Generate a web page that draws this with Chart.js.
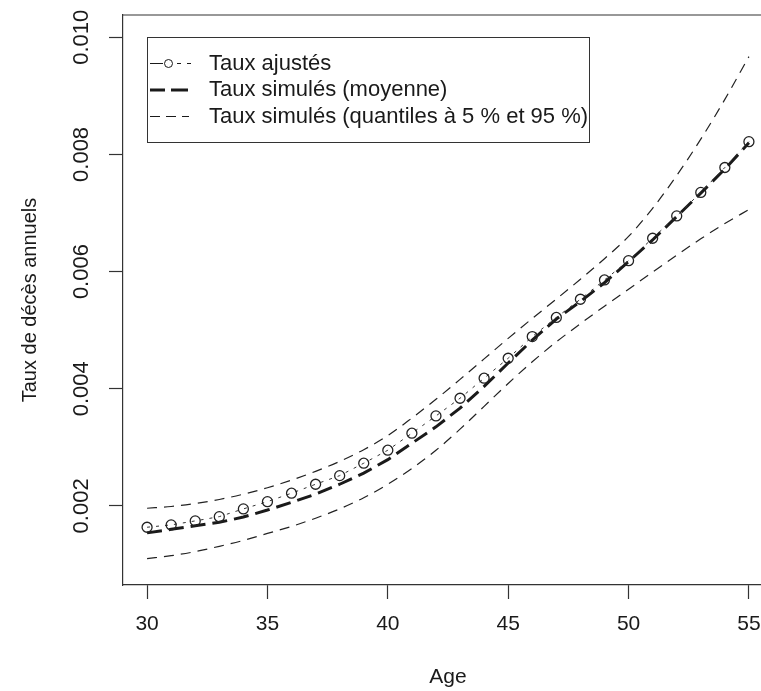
<!DOCTYPE html>
<html>
<head>
<meta charset="utf-8">
<script src="https://cdn.jsdelivr.net/npm/chart.js@4.4.1/dist/chart.umd.min.js"></script>
<style>
  html, body { margin: 0; padding: 0; background: #fff; overflow: hidden; }
  canvas { display: block; }
</style>
</head>
<body>
<canvas id="graphe" width="785" height="691"></canvas>
<script>
// ages 30..55
var ages = [30,31,32,33,34,35,36,37,38,39,40,41,42,43,44,45,46,47,48,49,50,51,52,53,54,55];

var tauxAjustes = [0.001636,0.001676,0.001744,0.001817,0.001949,0.002073,0.002217,0.002370,0.002517,0.002729,
                   0.002951,0.003241,0.003536,0.003838,0.004180,0.004521,0.004890,0.005217,0.005528,0.005857,
                   0.006187,0.006569,0.006950,0.007351,0.007777,0.008218];

var tauxMoyenne = [0.00154,0.00160,0.00166,0.00172,0.00181,0.00193,0.00206,0.00220,0.00237,0.00256,
                   0.00279,0.00307,0.00335,0.00367,0.00404,0.00444,0.00483,0.00519,0.00549,0.00581,
                   0.00617,0.00654,0.00694,0.00734,0.00775,0.00820];

var quantile95 = [0.00196,0.00199,0.00204,0.00211,0.00220,0.00231,0.00244,0.00259,0.00276,0.00296,
                  0.00320,0.00350,0.00382,0.00416,0.00451,0.00486,0.00520,0.00553,0.00587,0.00622,
                  0.00660,0.00708,0.00764,0.00826,0.00894,0.00967];

var quantile5 = [0.00110,0.00115,0.00122,0.00131,0.00141,0.00153,0.00165,0.00179,0.00195,0.00214,
                 0.00237,0.00264,0.00295,0.00331,0.00370,0.00409,0.00446,0.00480,0.00511,0.00541,
                 0.00570,0.00599,0.00628,0.00656,0.00682,0.00706];

var xTicks = [30,35,40,45,50,55];
var xTickLabels = ["30","35","40","45","50","55"];
var yTicks = [0.002,0.004,0.006,0.008,0.010];
var yTickLabels = ["0.002","0.004","0.006","0.008","0.010"];

var nomsSeries = ["Taux ajustés", "Taux simulés (moyenne)", "Taux simulés (quantiles à 5 % et 95 %)"];

function points(vals) {
    return ages.map(function (a, i) { return {x: a, y: vals[i]}; });
}

var police = '"Liberation Sans", Arial, sans-serif';
var noir = '#1a1a1a';

// cadre du haut (le bord droit sort de l'image)
var cadre = {
    id: 'cadre',
    afterDraw: function (chart) {
        var a = chart.chartArea, ctx = chart.ctx;
        ctx.save();
        ctx.strokeStyle = '#333';
        ctx.lineWidth = 1.2;
        ctx.beginPath();
        ctx.moveTo(a.left, a.top);
        ctx.lineTo(a.right, a.top);
        ctx.stroke();
        ctx.restore();
    }
};

// légende façon R
var legende = {
    id: 'legende',
    afterDraw: function (chart) {
        var ctx = chart.ctx;
        ctx.save();
        ctx.strokeStyle = '#333';
        ctx.lineWidth = 1;
        ctx.fillStyle = '#fff';
        ctx.fillRect(147, 37, 442, 105);
        ctx.strokeRect(147.5, 37.5, 442, 105);

        var ys = [63.5, 90, 116.5];
        ctx.strokeStyle = noir;
        // ligne 1 : trait, cercle, tirets
        ctx.lineWidth = 1;
        ctx.beginPath(); ctx.moveTo(150, ys[0]); ctx.lineTo(163, ys[0]); ctx.stroke();
        ctx.beginPath(); ctx.moveTo(177, ys[0]); ctx.lineTo(181, ys[0]); ctx.moveTo(187, ys[0]); ctx.lineTo(191, ys[0]); ctx.stroke();
        ctx.beginPath(); ctx.arc(168.5, ys[0], 4, 0, Math.PI * 2); ctx.fillStyle = '#fff'; ctx.fill(); ctx.stroke();
        // ligne 2 : tirets épais
        ctx.lineWidth = 3;
        ctx.beginPath(); ctx.moveTo(150, ys[1]); ctx.lineTo(165, ys[1]); ctx.moveTo(171, ys[1]); ctx.lineTo(188, ys[1]); ctx.stroke();
        // ligne 3 : tirets fins
        ctx.lineWidth = 1;
        ctx.beginPath(); ctx.moveTo(150, ys[2]); ctx.lineTo(160, ys[2]); ctx.moveTo(166, ys[2]); ctx.lineTo(176, ys[2]); ctx.moveTo(182, ys[2]); ctx.lineTo(189, ys[2]); ctx.stroke();

        ctx.fillStyle = noir;
        ctx.font = '22px ' + police;
        ctx.textBaseline = 'middle';
        ctx.textAlign = 'left';
        for (var i = 0; i < nomsSeries.length; i++) {
            ctx.fillText(nomsSeries[i], 209, ys[i]);
        }
        ctx.restore();
    }
};

var ctx = document.getElementById('graphe');
var graphe = new Chart(ctx, {
    type: 'line',
    data: {
        datasets: [
            {
                label: nomsSeries[0],
                data: points(tauxAjustes),
                borderColor: '#333',
                borderWidth: 1,
                borderDash: [3, 6],
                pointRadius: 5,
                pointBorderWidth: 1.3,
                pointBorderColor: '#222',
                pointBackgroundColor: 'rgba(255,255,255,0)',
                fill: false
            },
            {
                label: nomsSeries[1],
                data: points(tauxMoyenne),
                borderColor: noir,
                borderWidth: 3,
                borderDash: [15, 7],
                pointRadius: 0,
                fill: false
            },
            {
                label: nomsSeries[2],
                data: points(quantile95),
                borderColor: '#222',
                borderWidth: 1.2,
                borderDash: [10, 7],
                pointRadius: 0,
                cubicInterpolationMode: 'monotone',
                fill: false
            },
            {
                label: nomsSeries[2] + ' 5',
                data: points(quantile5),
                borderColor: '#222',
                borderWidth: 1.2,
                borderDash: [10, 7],
                pointRadius: 0,
                cubicInterpolationMode: 'monotone',
                fill: false
            }
        ]
    },
    options: {
        responsive: false,
        animation: false,
        devicePixelRatio: 1,
        layout: { padding: { top: 15, right: 12, left: 0, bottom: 0 } },
        plugins: {
            legend: { display: false },
            tooltip: { enabled: false }
        },
        scales: {
            x: {
                type: 'linear',
                min: 29,
                max: 56,
                afterBuildTicks: function (s) { s.ticks = xTicks.map(function (v) { return {value: v}; }); },
                afterFit: function (s) { s.height = 106; },
                border: { display: true, color: '#333', width: 1.2 },
                grid: { drawOnChartArea: false, drawTicks: true, tickLength: 14, tickColor: '#333', tickWidth: 1.2 },
                ticks: {
                    autoSkip: false,
                    maxRotation: 0,
                    padding: 13,
                    color: noir,
                    font: { family: police, size: 21 },
                    callback: function (v, i) { return xTickLabels[i]; }
                },
                title: {
                    display: true,
                    text: 'Age',
                    color: noir,
                    font: { family: police, size: 21 },
                    padding: { top: 0, bottom: 1 }
                }
            },
            y: {
                type: 'linear',
                min: 0.00065,
                max: 0.01038,
                afterBuildTicks: function (s) { s.ticks = yTicks.map(function (v) { return {value: v}; }); },
                afterFit: function (s) { s.width = 123; },
                border: { display: true, color: '#333', width: 1.2 },
                grid: { drawOnChartArea: false, drawTicks: true, tickLength: 14, tickColor: '#333', tickWidth: 1.2 },
                ticks: {
                    autoSkip: false,
                    minRotation: 90,
                    maxRotation: 90,
                    crossAlign: 'center',
                    padding: 0,
                    color: noir,
                    font: { family: police, size: 22 },
                    callback: function (v, i) { return yTickLabels[i]; }
                },
                title: {
                    display: true,
                    text: 'Taux de décès annuels',
                    color: noir,
                    font: { family: police, size: 20 },
                    padding: { top: 18, bottom: 0 }
                }
            }
        }
    },
    plugins: [cadre, legende]
});
</script>
</body>
</html>
